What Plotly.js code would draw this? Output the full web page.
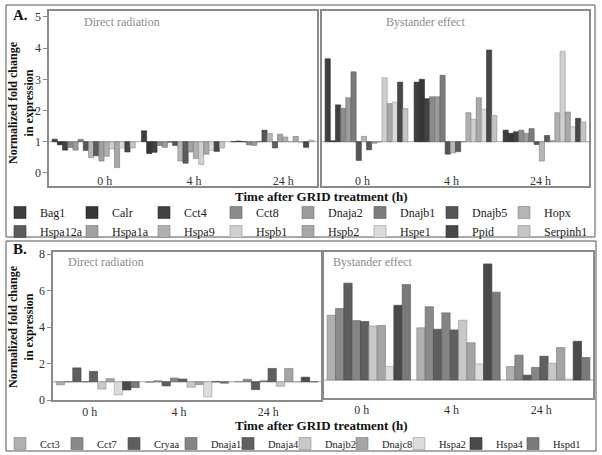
<!DOCTYPE html>
<html><head><meta charset="utf-8">
<script src="https://cdn.plot.ly/plotly-3.0.1.min.js"></script>
<style>html,body{margin:0;padding:0;background:#fff}#chart{width:602px;height:455px}</style>
</head><body><div id="chart"></div>
<script>
// ---------- DATA ----------
const timeLabels = ['0 h', '4 h', '24 h'];

// Panel A genes
const genesA = ['Bag1','Calr','Cct4','Cct8','Dnaja2','Dnajb1','Dnajb5','Hopx',
                'Hspa12a','Hspa1a','Hspa9','Hspb1','Hspb2','Hspe1','Ppid','Serpinh1'];
// normalized fold change, direct radiation
const aDirect0h  = [1.08,0.90,0.73,0.82,0.73,1.07,0.72,0.49,0.55,0.38,0.53,0.77,0.17,0.80,0.67,0.80];
const aDirect4h  = [1.35,0.62,0.66,0.88,0.82,0.98,0.88,0.38,0.31,0.67,0.46,0.27,0.60,0.72,0.69,0.80];
const aDirect24h = [1.00,1.02,1.00,0.90,0.88,1.00,1.37,1.26,0.80,1.24,1.15,1.00,1.17,0.97,0.82,1.05];
// bystander effect
const aBystander0h  = [3.66,1.03,2.18,2.07,2.41,3.24,0.40,1.17,0.74,0.95,1.00,3.05,2.22,2.27,2.91,2.06];
const aBystander4h  = [2.91,3.00,2.38,2.44,2.44,3.13,0.60,0.64,0.68,1.00,1.93,1.72,2.41,2.04,3.94,1.84];
const aBystander24h = [1.37,1.27,1.32,1.37,1.27,1.42,0.91,0.38,1.20,1.03,1.93,3.90,1.95,1.48,1.75,1.63];

// Panel B genes
const genesB = ['Cct3','Cct7','Cryaa','Dnaja1','Dnaja4','Dnajb2','Dnajc8','Hspa2','Hspa4','Hspd1'];
const bDirect0h  = [0.83,1.00,1.76,1.00,1.57,0.60,1.17,0.28,0.55,0.68];
const bDirect4h  = [0.97,1.05,0.77,1.20,1.15,0.70,0.85,0.17,1.00,0.92];
const bDirect24h = [1.00,1.13,0.57,1.05,1.73,0.75,1.73,1.00,1.25,1.00];
const bBystander0h  = [4.60,4.97,6.38,4.30,4.25,4.00,4.03,1.75,5.15,6.30];
const bBystander4h  = [3.90,5.07,3.82,4.73,3.78,4.32,3.07,1.90,7.45,5.88];
const bBystander24h = [1.75,2.38,1.27,1.70,2.32,1.93,2.80,1.05,3.15,2.25];

// ---------- STYLE ----------
const colorsA = ['#3e3e3e','#363636','#424242','#8c8c8c','#9c9c9c','#7c7c7c','#555555','#b6b6b6',
                 '#5c5c5c','#a2a2a2','#b0b0b0','#d0d0d0','#a8a8a8','#dadada','#484848','#c4c4c4'];
const colorsB = ['#b0b0b0','#8a8a8a','#5e5e5e','#858585','#606060','#c8c8c8','#a5a5a5','#dcdcdc','#4a4a4a','#7a7a7a'];

const W = 602, H = 455;
const px = v => v / W;
const py = v => 1 - v / H;
const FONT = 'Liberation Serif, Times New Roman, serif';

function darken(hex, f) {
  const n = parseInt(hex.slice(1), 16);
  const r = Math.round(((n >> 16) & 255) * f), g = Math.round(((n >> 8) & 255) * f), b = Math.round((n & 255) * f);
  return 'rgb(' + r + ',' + g + ',' + b + ')';
}

function barTrace(name, vals, color, xa, ya, legend, show) {
  return {
    type: 'bar', name: name, x: timeLabels,
    base: 1, y: vals.map(v => v - 1),
    xaxis: xa, yaxis: ya, legend: legend, legendgroup: legend + name, showlegend: show,
    marker: { color: color, line: { color: darken(color, 0.72), width: 0.6 } },
    hoverinfo: 'skip'
  };
}

const traces = [];
genesA.forEach((g, i) => {
  traces.push(barTrace(g, [aDirect0h[i], aDirect4h[i], aDirect24h[i]], colorsA[i], 'x', 'y', 'legend', true));
});
genesA.forEach((g, i) => {
  traces.push(barTrace(g, [aBystander0h[i], aBystander4h[i], aBystander24h[i]], colorsA[i], 'x2', 'y2', 'legend', false));
});
genesB.forEach((g, i) => {
  traces.push(barTrace(g, [bDirect0h[i], bDirect4h[i], bDirect24h[i]], colorsB[i], 'x3', 'y3', 'legend2', true));
});
genesB.forEach((g, i) => {
  traces.push(barTrace(g, [bBystander0h[i], bBystander4h[i], bBystander24h[i]], colorsB[i], 'x4', 'y4', 'legend2', false));
});

const boxLine = { showline: true, mirror: true, linecolor: '#8a8a8a', linewidth: 1.6, showgrid: false, zeroline: false };
const tickFont = { family: FONT, size: 12, color: '#333' };

const xA = Object.assign({ type: 'category', ticks: '', tickfont: tickFont, ticklabelposition: 'outside', ticklabelstandoff: -17, fixedrange: true }, boxLine);
const xB = Object.assign({ type: 'category', ticks: '', tickfont: tickFont, ticklabelposition: 'outside', fixedrange: true }, boxLine);

const layout = {
  width: W, height: H,
  margin: { l: 0, r: 0, t: 0, b: 0, autoexpand: false },
  paper_bgcolor: '#ffffff', plot_bgcolor: 'rgba(0,0,0,0)',
  font: { family: FONT, size: 12, color: '#333' },
  barmode: 'group', bargap: 0.07, bargroupgap: 0,
  xaxis:  Object.assign({}, xA, { domain: [px(49), px(317)], anchor: 'y', ticklabelshift: 11 }),
  xaxis2: Object.assign({}, xA, { domain: [px(322), px(589)], anchor: 'y2', ticklabelshift: -4 }),
  xaxis3: Object.assign({}, xB, { domain: [px(53), px(321)], anchor: 'y3', ticklabelshift: -8 }),
  xaxis4: Object.assign({}, xB, { domain: [px(324), px(593)], anchor: 'y4', ticklabelshift: -7 }),
  yaxis:  Object.assign({}, boxLine, { domain: [py(186), py(11)], anchor: 'x', range: [-0.42, 5.19], tick0: 0, dtick: 1,
            ticks: 'outside', ticklen: 4, tickcolor: '#8a8a8a', tickfont: tickFont, fixedrange: true }),
  yaxis2: Object.assign({}, boxLine, { domain: [py(186), py(11)], anchor: 'x2', matches: 'y', showticklabels: false, ticks: '', fixedrange: true }),
  yaxis3: Object.assign({}, boxLine, { domain: [py(400), py(252)], anchor: 'x3', range: [0, 8.11], tick0: 0, dtick: 2,
            ticks: 'outside', ticklen: 4, tickcolor: '#8a8a8a', tickfont: tickFont, fixedrange: true }),
  yaxis4: Object.assign({}, boxLine, { domain: [py(398), py(252)], anchor: 'x4', range: [0, 8.11], showticklabels: false, ticks: '', fixedrange: true }),
  legend: {
    orientation: 'h', xref: 'paper', yref: 'paper', x: 0, y: py(198), xanchor: 'left', yanchor: 'top',
    entrywidth: 27, entrywidthmode: 'pixels', font: { family: FONT, size: 12, color: '#222' },
    bgcolor: 'rgba(0,0,0,0)', itemclick: false, itemdoubleclick: false, traceorder: 'normal'
  },
  legend2: {
    orientation: 'h', xref: 'paper', yref: 'paper', x: 0, y: py(429), xanchor: 'left', yanchor: 'top',
    entrywidth: 12, entrywidthmode: 'pixels', font: { family: FONT, size: 10.5, color: '#222' },
    bgcolor: 'rgba(0,0,0,0)', itemclick: false, itemdoubleclick: false, traceorder: 'normal'
  },
  shapes: [
    { type: 'rect', xref: 'paper', yref: 'paper', x0: px(6), x1: px(595), y0: py(237), y1: py(5), line: { color: '#555', width: 1 } },
    { type: 'rect', xref: 'paper', yref: 'paper', x0: px(6), x1: px(596), y0: py(451), y1: py(241), line: { color: '#555', width: 1 } },
    { type: 'line', xref: 'x domain', yref: 'y', x0: 0, x1: 1, y0: 1, y1: 1, layer: 'below', line: { color: '#a8a8a8', width: 1 } },
    { type: 'line', xref: 'x2 domain', yref: 'y2', x0: 0, x1: 1, y0: 1, y1: 1, layer: 'below', line: { color: '#a8a8a8', width: 1 } },
    { type: 'line', xref: 'x3 domain', yref: 'y3', x0: 0, x1: 1, y0: 1, y1: 1, layer: 'below', line: { color: '#a8a8a8', width: 1 } },
    { type: 'line', xref: 'x4 domain', yref: 'y4', x0: 0, x1: 1, y0: 1, y1: 1, layer: 'below', line: { color: '#a8a8a8', width: 1 } }
  ],
  annotations: [
    { text: '<b>A.</b>', xref: 'paper', yref: 'paper', x: px(11), y: py(15), xanchor: 'left', yanchor: 'middle', showarrow: false, font: { family: FONT, size: 15, color: '#111' } },
    { text: '<b>B.</b>', xref: 'paper', yref: 'paper', x: px(11), y: py(249), xanchor: 'left', yanchor: 'middle', showarrow: false, font: { family: FONT, size: 15, color: '#111' } },
    { text: '<b>Normalized fold change<br>in expression</b>', xref: 'paper', yref: 'paper', x: px(21), y: py(103), textangle: -90, showarrow: false, xanchor: 'center', yanchor: 'middle', font: { family: FONT, size: 12, color: '#111' } },
    { text: '<b>Normalized fold change<br>in expression</b>', xref: 'paper', yref: 'paper', x: px(21), y: py(327), textangle: -90, showarrow: false, xanchor: 'center', yanchor: 'middle', font: { family: FONT, size: 12, color: '#111' } },
    { text: '<b>Time after GRID treatment (h)</b>', xref: 'paper', yref: 'paper', x: px(321), y: py(196), showarrow: false, xanchor: 'center', yanchor: 'middle', font: { family: FONT, size: 13, color: '#111' } },
    { text: '<b>Time after GRID treatment (h)</b>', xref: 'paper', yref: 'paper', x: px(321), y: py(425), showarrow: false, xanchor: 'center', yanchor: 'middle', font: { family: FONT, size: 13, color: '#111' } },
    { text: 'Direct radiation', xref: 'paper', yref: 'paper', x: px(82), y: py(22), showarrow: false, xanchor: 'left', yanchor: 'middle', font: { family: FONT, size: 12, color: '#8c8c8c' } },
    { text: 'Bystander effect', xref: 'paper', yref: 'paper', x: px(384), y: py(22), showarrow: false, xanchor: 'left', yanchor: 'middle', font: { family: FONT, size: 12, color: '#8c8c8c' } },
    { text: 'Direct radiation', xref: 'paper', yref: 'paper', x: px(66), y: py(262), showarrow: false, xanchor: 'left', yanchor: 'middle', font: { family: FONT, size: 12, color: '#8c8c8c' } },
    { text: 'Bystander effect', xref: 'paper', yref: 'paper', x: px(331), y: py(262), showarrow: false, xanchor: 'left', yanchor: 'middle', font: { family: FONT, size: 12, color: '#8c8c8c' } }
  ]
};

function unclipLegends() {
  document.querySelectorAll('#chart .legend, #chart .legend2, #chart .legend .scrollbox, #chart .legend2 .scrollbox').forEach(el => {
    el.removeAttribute('clip-path');
    el.style.clipPath = '';
  });
}

Plotly.newPlot('chart', traces, layout, { displayModeBar: false, staticPlot: true }).then(unclipLegends);
</script>
</body></html>
